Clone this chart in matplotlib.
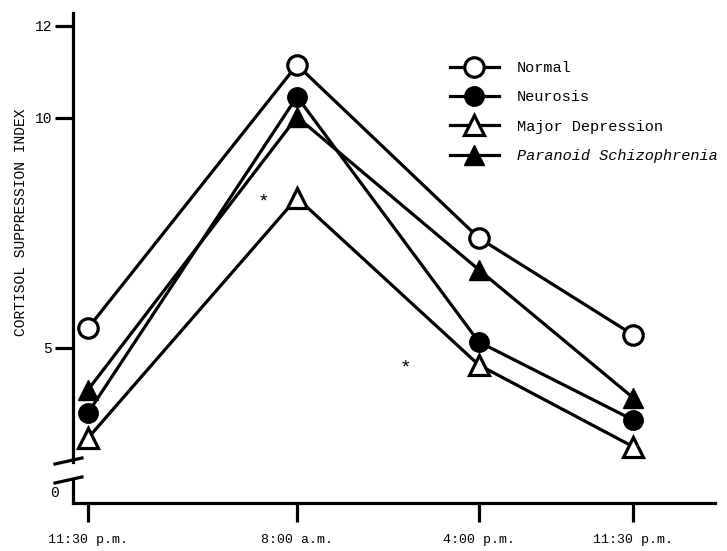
import matplotlib.pyplot as plt
from matplotlib.lines import Line2D

plt.rcParams['font.family'] = ['Liberation Mono', 'DejaVu Sans Mono']

# Points horaires (positions relatives)
times = ['11:30 p.m.', '8:00 a.m.', '4:00 p.m.', '11:30 p.m.']
x_pos = [0, 1, 1.87, 2.61]

# Valeurs
normal = [5.43, 11.15, 7.39, 5.28]
neurosis = [3.59, 10.46, 5.13, 3.43]
major_depression = [3.04, 8.26, 4.63, 2.85]
paranoid = [4.09, 10.02, 6.70, 3.91]

fig = plt.figure(figsize=(7.27, 5.51), dpi=100)
ax = fig.add_axes([0.1004, 0.1615, 0.883, 0.815])
ax0 = fig.add_axes([0.1004, 0.0871, 0.883, 0.0417])

lw = 2.3
ax.plot(x_pos, paranoid, color='black', lw=lw, marker='^', ms=15,
        mfc='black', mec='black', label='Paranoid Schizophrenia', zorder=3)
ax.plot(x_pos, major_depression, color='black', lw=lw, marker='^', ms=15,
        mfc='white', mec='black', mew=2.3, label='Major Depression', zorder=4)
ax.plot(x_pos, neurosis, color='black', lw=lw, marker='o', ms=14,
        mfc='black', mec='black', label='Neurosis', zorder=5)
ax.plot(x_pos, normal, color='black', lw=lw, marker='o', ms=14,
        mfc='white', mec='black', mew=2.3, label='Normal', zorder=6)

# astérisques (différence significative)
ax.text(0.84, 8.17, '*', fontsize=14, ha='center', va='center')
ax.text(1.52, 4.57, '*', fontsize=14, ha='center', va='center')

for a in (ax, ax0):
    a.set_xlim(-0.072, 3.0)
    for s in ('top', 'right'):
        a.spines[s].set_visible(False)
    a.spines['left'].set_linewidth(2.3)

ax.set_ylim(2.52, 12.28)
ax.spines['bottom'].set_visible(False)
ax.set_xticks([])
ax.set_yticks([5, 10, 12])
ax.set_yticklabels(['5', '10', '12'])
ax.tick_params(axis='y', length=13, width=2.3, direction='out', pad=2, labelsize=10.5)

ax0.set_ylim(-1, 1)
ax0.spines['bottom'].set_linewidth(2.3)
ax0.set_yticks([0])
ax0.set_yticklabels(['0'])
ax0.tick_params(axis='y', length=0, pad=10, labelsize=10.5)
ax0.set_xticks(x_pos)
ax0.set_xticklabels(times)
ax0.tick_params(axis='x', length=14, width=2.3, direction='out', pad=8, labelsize=9.5)

fig.text(0.029, 0.596, 'CORTISOL SUPPRESSION INDEX', rotation=90,
         ha='center', va='center', fontsize=10.5)

# marques de rupture de l'axe
fig.add_artist(Line2D([55 / 727, 82 / 727], [1 - 464 / 551, 1 - 458 / 551],
                      transform=fig.transFigure, color='black', lw=2.3))
fig.add_artist(Line2D([55 / 727, 82 / 727], [1 - 483 / 551, 1 - 477 / 551],
                      transform=fig.transFigure, color='black', lw=2.3))

handles, labels = ax.get_legend_handles_labels()
order = [3, 2, 1, 0]
leg = ax.legend([handles[i] for i in order], [labels[i] for i in order],
                loc='upper left', bbox_to_anchor=(0.619, 0.889),
                bbox_transform=fig.transFigure, frameon=False,
                fontsize=11, handlelength=3.2, handletextpad=1.2,
                labelspacing=1.0, borderpad=0, borderaxespad=0)
leg.get_texts()[3].set_style('italic')

fig.savefig('out.png', dpi=100)
